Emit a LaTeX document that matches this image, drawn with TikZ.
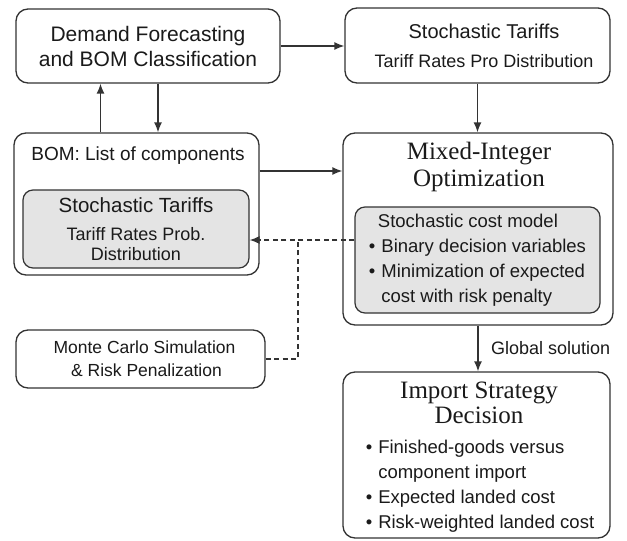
\documentclass[tikz,border=0pt]{standalone}
\usepackage{fontspec}
\setmainfont{Liberation Sans}
\newfontfamily\headserif{Liberation Serif}
\usetikzlibrary{positioning,arrows.meta}
\definecolor{boxline}{HTML}{333333}
\definecolor{boxfill}{HTML}{E4E4E4}
\definecolor{ink}{HTML}{1A1A1A}
\tikzset{
  block/.style={draw=boxline, line width=1.3pt, rounded corners=12pt, fill=white, inner sep=0pt, text=ink},
  core/.style={draw=boxline, line width=1.2pt, rounded corners=10pt, fill=boxfill, inner sep=0pt, text=ink},
  flow/.style={draw=boxline, line width=1.5pt, -{Latex[length=10pt,width=8pt]}},
  sim/.style={draw=boxline, line width=1.3pt, dash pattern=on 5pt off 3.5pt},
}

\begin{document}
\begin{tikzpicture}[x=1pt,y=-1pt]
  \useasboundingbox (0,0) rectangle (627,541);
  % top row
  \node[block, minimum width=264pt, minimum height=74pt, align=center,
        font=\fontsize{21}{25}\selectfont] (demand) at (148,46)
        {Demand Forecasting\\and BOM Classification};
  \node[block, minimum width=265pt, minimum height=75pt, align=center,
        font=\fontsize{18}{29}\selectfont] (tariffs) at (477.5,45.5)
        {\hspace{13pt}{\fontsize{20}{24}\selectfont Stochastic Tariffs}\\
         \hspace{13pt}Tariff Rates Pro Distribution};
  % middle row
  \node[block, minimum width=245pt, minimum height=142pt] (bom) at (136.5,204) {};
  \node[font=\fontsize{19}{23}\selectfont, text=ink] (bomtitle) at (138,156) {BOM: List of components};
  \node[core, minimum width=226pt, minimum height=78pt, align=center,
        font=\fontsize{18}{20}\selectfont] (tariffcore) at (136,229)
        {{\fontsize{20.5}{24}\selectfont Stochastic Tariffs}\\[8pt]
         Tariff Rates Prob.\\
         Distribution};
  \node[block, minimum width=270pt, minimum height=192pt] (opt) at (478,229) {};
  \node[align=center, font=\headserif\fontsize{25}{27}\selectfont, text=ink] (opttitle) at (479,166.5)
        {Mixed-Integer\\Optimization};
  \node[core, minimum width=245pt, minimum height=106pt, font=\fontsize{18.5}{25}\selectfont] (optcore) at (477.5,260)
        {\begin{tabular}{@{}l@{\hspace{6pt}}l@{}}
           \multicolumn{2}{@{}l@{}}{\hspace{9pt}Stochastic cost model}\\
           \textbullet & Binary decision variables\\
           \textbullet & Minimization of expected\\
                       & cost with risk penalty
         \end{tabular}};
  % bottom row
  \node[block, minimum width=249pt, minimum height=58pt, align=center,
        font=\fontsize{17.5}{23}\selectfont] (montecarlo) at (140.5,359)
        {\hspace{8pt}Monte Carlo Simulation\\\hspace{12pt}\& Risk Penalization};
  \node[block, minimum width=267pt, minimum height=166pt] (strategy) at (476.5,455) {};
  \node[align=center, font=\headserif\fontsize{25}{25}\selectfont, text=ink] (strattitle) at (479,402.5)
        {Import Strategy\\Decision};
  \node[font=\fontsize{18.5}{25}\selectfont, text=ink] (stratlist) at (480,485.5)
        {\begin{tabular}{@{}l@{\hspace{6pt}}l@{}}
           \textbullet & Finished-goods versus\\
                       & component import\\
           \textbullet & Expected landed cost\\
           \textbullet & Risk-weighted landed cost
         \end{tabular}};
  % connectors
  \draw[flow] (demand.east) -- (demand.east -| tariffs.west);
  \draw[flow] ([xshift=-36pt]bom.north) -- ([xshift=-36pt]bom.north |- demand.south);
  \draw[flow] ([xshift=10pt]demand.south) -- ([xshift=10pt]demand.south |- bom.north);
  \draw[flow] (tariffs.south) -- (tariffs.south |- opt.north);
  \draw[flow] ([yshift=33pt]bom.east) -- ([yshift=33pt]bom.east -| opt.west);
  \draw[flow] (opt.south) -- (opt.south |- strategy.north)
        node[midway, right=9pt, font=\fontsize{18}{22}\selectfont, text=ink] (globalsol) {Global solution};
  % simulation feedback
  \coordinate (simjoin) at (298,240);
  \draw[sim] (montecarlo.east) -| (simjoin);
  \draw[sim, -{Latex[length=10pt,width=8pt]}] (optcore.west |- simjoin) -- (tariffcore.east |- simjoin);
\end{tikzpicture}
\end{document}
